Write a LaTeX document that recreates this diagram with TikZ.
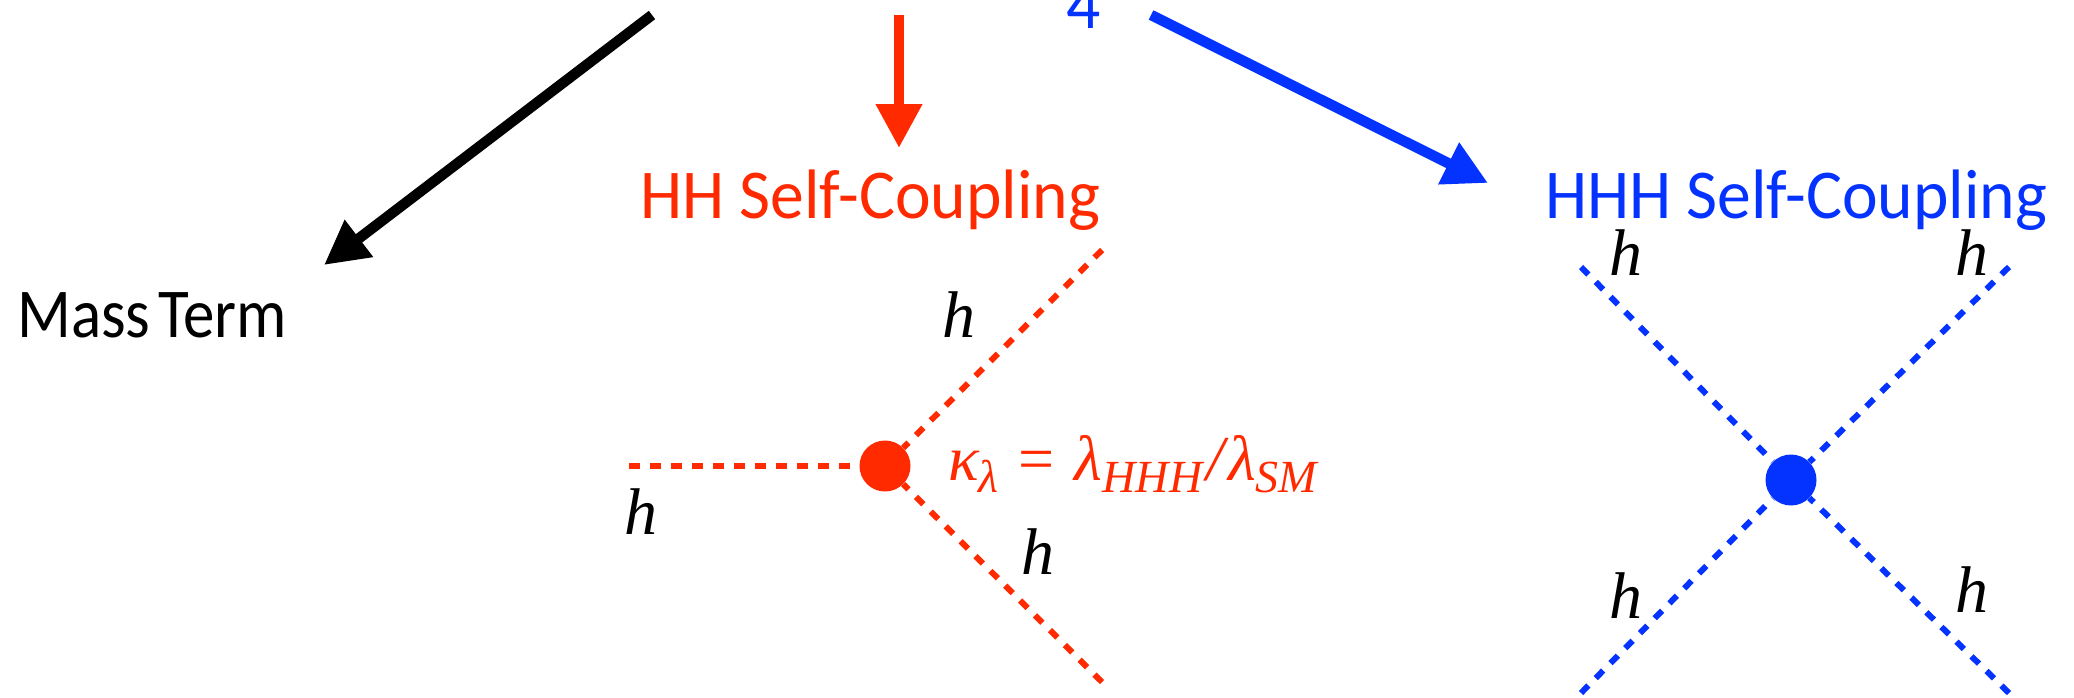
\documentclass[tikz,border=0pt]{standalone}
\usepackage{fontspec}
\setmainfont[FakeStretch=0.965]{Carlito}
\newfontfamily\mathserif{Liberation Serif}
\newfontfamily\massfont[FakeStretch=0.9]{Carlito}
\usetikzlibrary{arrows.meta}
\definecolor{hhred}{HTML}{FF2A00}
\definecolor{hhblue}{HTML}{0433FF}
\newcommand{\subsc}[1]{\raisebox{-0.2em}{\fontsize{46}{46}\selectfont\itshape #1}}
\tikzset{
  x=1pt,y=-1pt,
  label text/.style={inner sep=0pt,anchor=base west,font=\fontsize{70}{70}\selectfont},
  hlabel/.style={inner sep=0pt,anchor=base west,text=black,font=\mathserif\itshape\fontsize{66}{66}\selectfont},
  bigarrow/.style={line width=10.5pt,-{Triangle[length=44pt,width=44pt]}},
  higgs/.style={line width=6pt,dash pattern=on 10.5pt off 10.5pt},
  vertex/.style={circle,inner sep=0pt,minimum size=51pt,fill=#1},
}
\begin{document}
\begin{tikzpicture}
\useasboundingbox (0,0) rectangle (2074,697);
\clip (0,0) rectangle (2074,697);
% labels
\node[label text,text=black,font=\massfont\fontsize{70}{70}\selectfont] (mass) at (17,337) {Mass\hspace{-0.09em} Term};
\node[label text,text=hhred] (hh) at (640,218) {HH Self-Coupling};
\node[label text,text=hhblue] (hhh) at (1545,218) {HHH Self-Coupling};
\node[label text,text=hhblue] (four) at (1066,28) {4};
% arrows
\coordinate (a1) at (652,15); \coordinate (a1e) at (324,265);
\coordinate (a2) at (899,15); \coordinate (a2e) at (899,148);
\coordinate (a3) at (1151,15); \coordinate (a3e) at (1488,183);
\draw[bigarrow,black] (a1) -- (a1e);
\draw[bigarrow,hhred] (a2) -- (a2e);
\draw[bigarrow,hhblue] (a3) -- (a3e);
% HH vertex
\node[vertex=hhred] (v3) at (885,466) {};
\coordinate (r1) at (629,466); \coordinate (r2) at (1102,250); \coordinate (r3) at (1102,682);
\draw[higgs,hhred] (r1) -- (v3);
\draw[higgs,hhred] (r2) -- (v3);
\draw[higgs,hhred] (r3) -- (v3);
\node[hlabel] (h1) at (624,534) {h};
\node[hlabel] (h2) at (942,337) {h};
\node[hlabel] (h3) at (1021,574) {h};
\node[inner sep=0pt,anchor=base west,text=hhred,font=\mathserif\fontsize{64}{64}\selectfont] (kap) at (948,480)
  {{\itshape κ}\subsc{λ}\hspace{20pt}=\hspace{20pt}{\itshape λ}\subsc{HHH}\hspace{4pt}{\itshape /}\hspace{4pt}{\itshape λ}\subsc{SM}};
% HHH vertex
\node[vertex=hhblue] (v4) at (1791,480) {};
\coordinate (b1) at (1581,267); \coordinate (b2) at (2009,267);
\coordinate (b3) at (1581,693); \coordinate (b4) at (2009,693);
\draw[higgs,hhblue] (b1) -- (v4);
\draw[higgs,hhblue] (b2) -- (v4);
\draw[higgs,hhblue] (b3) -- (v4);
\draw[higgs,hhblue] (b4) -- (v4);
\node[hlabel] (h4) at (1609,275) {h};
\node[hlabel] (h5) at (1955,275) {h};
\node[hlabel] (h6) at (1609,618) {h};
\node[hlabel] (h7) at (1955,612) {h};
\end{tikzpicture}
\end{document}
